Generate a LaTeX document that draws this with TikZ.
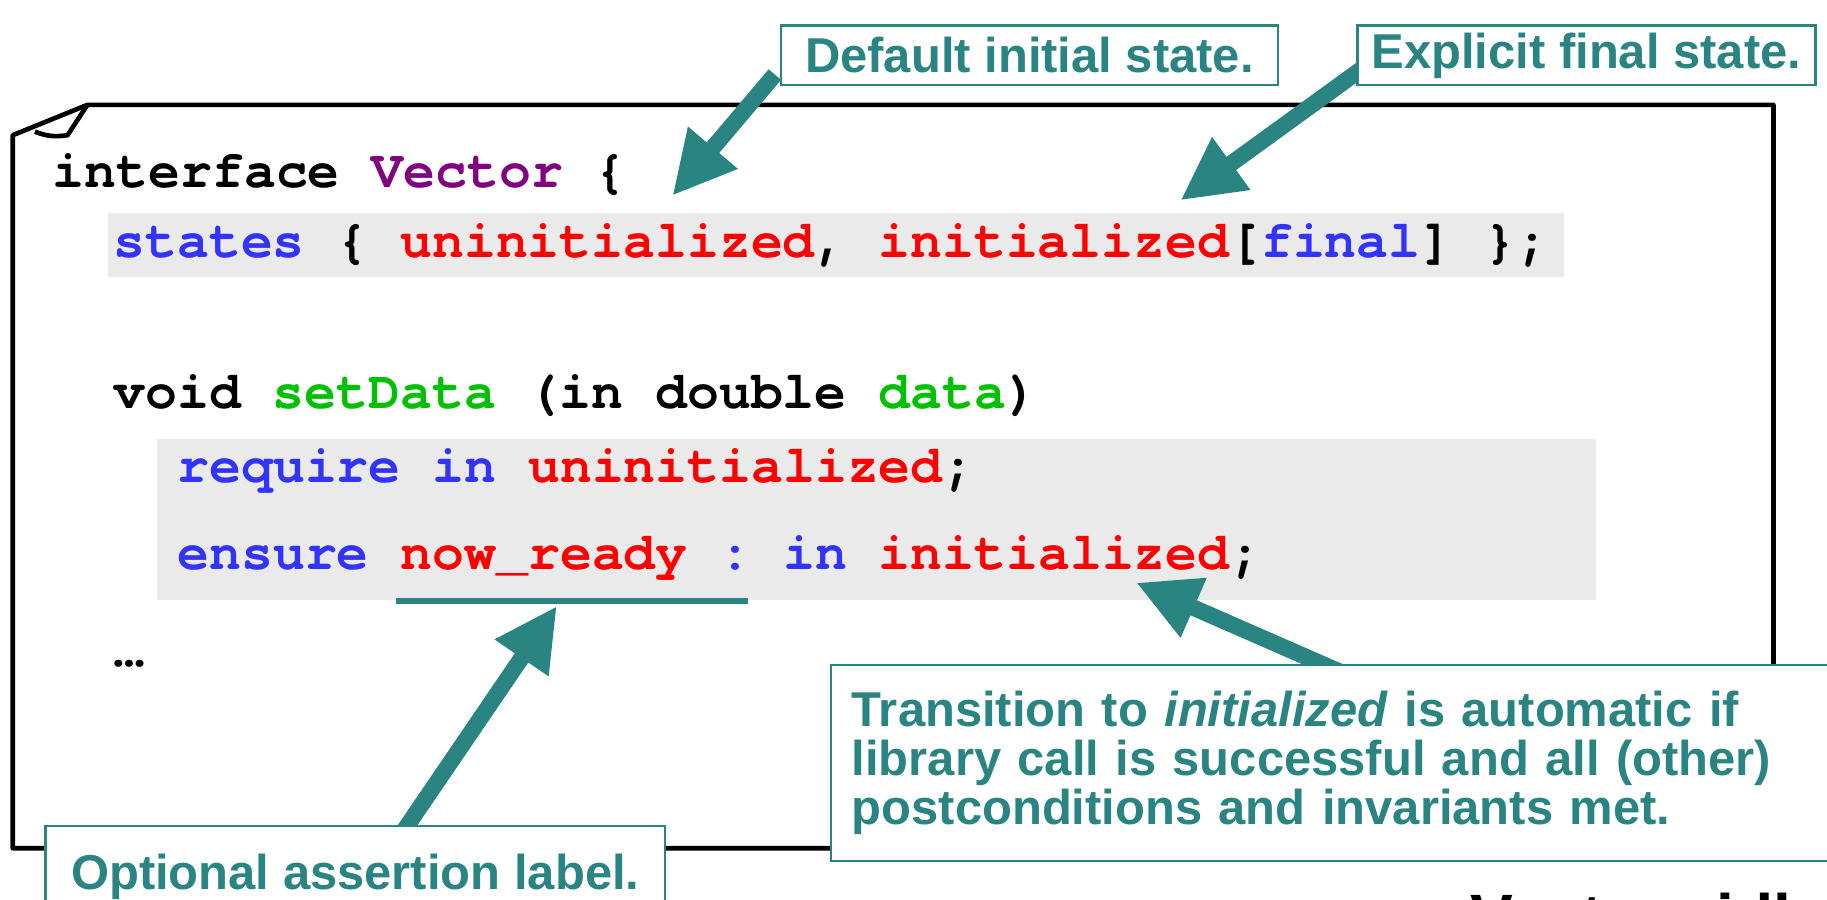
\documentclass[tikz,border=0pt]{standalone}
\usepackage{fontspec}
\setmainfont{Liberation Sans}
\setmonofont[Ligatures=NoCommon]{TeX Gyre Cursor}
\usetikzlibrary{arrows.meta,calc}

\definecolor{notecol}{HTML}{2A8482}
\definecolor{kwdblue}{HTML}{3333FF}
\definecolor{statered}{HTML}{FF0000}
\definecolor{fngreen}{HTML}{00C000}
\definecolor{typurple}{HTML}{800080}
\definecolor{codebg}{HTML}{EAEAEA}

\pgfdeclarelayer{front}
\pgfsetlayers{main,front}

\newcommand{\kwd}[1]{\textcolor{kwdblue}{#1}}
\newcommand{\stn}[1]{\textcolor{statered}{#1}}
\newcommand{\fnn}[1]{\textcolor{fngreen}{#1}}

\tikzset{
	code/.style={anchor=base west, inner sep=0pt, font=\ttfamily\bfseries\fontsize{22.8}{22.8}\selectfont},
	note/.style={draw=notecol, line width=1pt, fill=white, text=notecol, inner sep=0pt,
		font=\bfseries\fontsize{21}{21}\selectfont},
	callout/.style={draw=notecol, line width=7pt, -{Triangle[length=27pt,width=26pt]}},
}

\begin{document}
\begin{tikzpicture}[x=0.5pt,y=-0.5pt]
	\useasboundingbox (0,0) rectangle (1568,772);

	% sheet with the folded corner
	\draw[line width=2pt,line join=round] 
		(11,116) -- (75,90) -- (1522,90) -- (1522,728) -- (11,728) -- cycle;
	\draw[line width=2pt,line join=round] (75,90) -- (58,116) to[bend left=15] (30,113);

	% shaded blocks behind the code
	\fill[codebg] (93,183) rectangle (1342,238);
	\fill[codebg] (135,377) rectangle (1370,515);

	\node[code] (l1) at (45,161) {interface \textcolor{typurple}{Vector} \{};
	\node[code] (l2) at (97,221) {\kwd{states} \{ \stn{uninitialized}, \stn{initialized}[\kwd{final}] \};};
	\node[code] (l3) at (97,351) {void \fnn{setData} (in double \fnn{data})};
	\node[code] (l4) at (152,414) {\kwd{require in} \stn{uninitialized};};
	\node[code] (l5) at (152,489) {\kwd{ensure} \stn{now\_ready} \kwd{: in} \stn{initialized};};
	\node[code] (l6) at (97,572) {…};

	\draw[notecol,line width=2.5pt] (340,516) -- (642,516);

	% callout boxes
	\begin{pgfonlayer}{front}
	\node[note,minimum width=213.5pt,minimum height=25.5pt] (init) at (883.5,47.5) {Default initial state.};
	\node[note,minimum width=196.5pt,minimum height=25.5pt] (final) at (1361.5,47.5) {Explicit final state.};
	\node[note,anchor=north west,inner sep=11pt,text height=16pt,text depth=30pt] (label) at (38,708) {Optional assertion label.};
	\node[note,anchor=north west,inner xsep=9pt,minimum width=434pt,minimum height=84pt,
		text width=416pt,align=left] (trans) at (712,570)
		{Transition to \textit{initialized} is automatic if\\
		 library call is successful and all (other)\\
		 postconditions and invariants met.};
	\node[anchor=base west,inner sep=0pt,font=\bfseries\fontsize{27.5}{27.5}\selectfont] (file) at (1262,806) {Vector.sidl};
	\end{pgfonlayer}

	\coordinate (tipA) at (577,168);
	\coordinate (tipB) at (1013,172);
	\coordinate (tipC) at (478,520);
	\coordinate (tipD) at (975,500);

	\draw[callout] ($(init.south west)+(-4,-10)$) -- (tipA);
	\draw[callout] ($(final.south west)+(20,-26)$) -- (tipB);
	\draw[callout] ($(label.north west)+(299,19)$) -- (tipC);
	\draw[callout] ($(trans.north west)+(439,7)$) -- (tipD);
\end{tikzpicture}
\end{document}
